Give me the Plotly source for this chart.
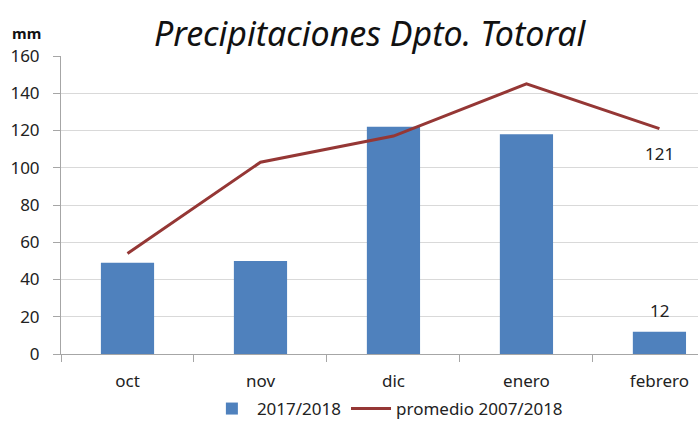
import plotly.graph_objects as go

months = ["oct", "nov", "dic", "enero", "febrero"]
season_2017_2018 = [49, 50, 122, 118, 12]
promedio_2007_2018 = [54, 103, 117, 145, 121]
bar_labels = ["", "", "", "", "12"]
line_labels = ["", "", "", "", "121"]
y_ticks = [0, 20, 40, 60, 80, 100, 120, 140, 160]

FONT = "Noto Sans"
W, H = 698, 423
ML, MR, MT, MB = 61, 0, 56, 69

fig = go.Figure()
fig.add_trace(go.Bar(
    x=months, y=season_2017_2018, name="2017/2018",
    marker=dict(color="#4F81BD", line=dict(width=0)),
    width=0.4,
))
fig.add_trace(go.Scatter(
    x=months, y=promedio_2007_2018, name="promedio 2007/2018",
    mode="lines", line=dict(color="#953735", width=3),
))

annotations = []
for m, v, t in zip(months, season_2017_2018, bar_labels):
    if t:
        annotations.append(dict(x=m, y=v, xref="x", yref="y", text=t, showarrow=False,
                                yshift=21, font=dict(size=17, family=FONT, color="#222")))
for m, v, t in zip(months, promedio_2007_2018, line_labels):
    if t:
        annotations.append(dict(x=m, y=v, xref="x", yref="y", text=t, showarrow=False,
                                yshift=-25, font=dict(size=17, family=FONT, color="#222")))

plot_w = W - ML - MR
plot_h = H - MT - MB


def px_to_paper(px, py):
    return (px - ML) / plot_w, (H - MB - py) / plot_h


tx, ty = px_to_paper(370, 33)
annotations.append(dict(text="<i>Precipitaciones Dpto. Totoral</i>", x=tx, y=ty,
                        xref="paper", yref="paper", showarrow=False,
                        font=dict(size=34, family=FONT, color="#111"),
                        xanchor="center", yanchor="middle"))
mx, my = px_to_paper(26, 33)
annotations.append(dict(text="<b>mm</b>", x=mx, y=my, xref="paper", yref="paper",
                        showarrow=False, font=dict(size=15, family=FONT, color="#111"),
                        xanchor="center", yanchor="middle"))

fig.update_layout(
    width=W, height=H,
    margin=dict(l=ML, r=MR, t=MT, b=MB, autoexpand=False),
    paper_bgcolor="white", plot_bgcolor="white",
    font=dict(family=FONT, size=17, color="#222"),
    showlegend=True,
    legend=dict(orientation="h", xref="container", yref="container",
                x=0.555, xanchor="center", y=1 - 409 / H, yanchor="middle",
                font=dict(size=17, family=FONT), traceorder="normal",
                itemwidth=40, tracegroupgap=0, bgcolor="rgba(0,0,0,0)"),
    bargap=0.6,
    annotations=annotations,
)

fig.update_xaxes(
    type="category", range=[-0.5, 4.29],
    showline=True, linecolor="#A6A6A6", linewidth=1,
    ticks="outside", tickson="boundaries", ticklen=7, tickcolor="#A6A6A6",
    ticklabelstandoff=12,
    showgrid=False, tickfont=dict(size=17, family=FONT, color="#222"),
)
fig.update_yaxes(
    range=[0, 160], tickvals=y_ticks,
    showline=True, linecolor="#A6A6A6", linewidth=1,
    ticks="outside", ticklen=7, tickcolor="#A6A6A6",
    ticklabelstandoff=10,
    showgrid=True, gridcolor="#D9D9D9", gridwidth=1, zeroline=False,
    tickfont=dict(size=17, family=FONT, color="#222"),
)

fig.write_html("out.html", config={"displayModeBar": False},
               post_script="document.body.style.margin='0';")
